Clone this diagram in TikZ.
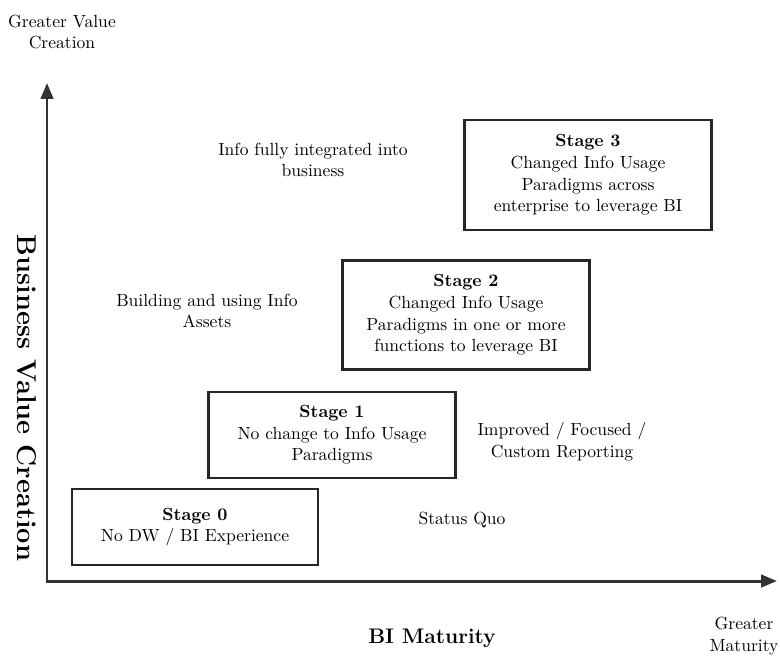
\documentclass[tikz,border=0pt]{standalone}
\usepackage{tikz}
\usetikzlibrary{arrows.meta,positioning}

\begin{document}
\begin{tikzpicture}[
	x=0.02cm, y=-0.02cm,
	font=\fontsize{10}{12.3}\selectfont,
	>={Triangle[length=9pt,width=7pt]},
	stage/.style={rectangle, draw=black!85, line width=1.6pt, align=center, inner sep=0pt, minimum width=4.95cm},
	lbl/.style={align=center, inner sep=0pt},
	axis/.style={<->, line width=1.7pt, black!80},
]
\useasboundingbox (0,0) rectangle (780,659);
% Achsen
\coordinate (ytip) at (47,83);
\coordinate (xtip) at (777,581);
\draw[axis] (ytip) |- (xtip);
\node[lbl] (gvc) at (62,32) {Greater Value\\Creation};
\node[lbl, rotate=-90, font=\fontsize{15.5}{18}\selectfont\bfseries] (bvc) at (27,398) {Business Value Creation};
\node[lbl, font=\fontsize{12}{14}\selectfont\bfseries] (bimat) at (432,638) {BI Maturity};
\node[lbl] (gmat) at (744,636) {Greater\\Maturity};
% Stufen
\node[stage, minimum width=4.92cm, minimum height=1.52cm] (s0) at (195,527) {\textbf{Stage 0}\\No DW / BI Experience};
\node[stage, minimum height=1.72cm] (s1) at (332,435) {\textbf{Stage 1}\\No change to Info Usage\\Paradigms};
\node[stage, minimum height=2.18cm] (s2) at (466,315) {\textbf{Stage 2}\\Changed Info Usage\\Paradigms in one or more\\functions to leverage BI};
\node[stage, minimum height=2.2cm] (s3) at (588,175) {\textbf{Stage 3}\\Changed Info Usage\\Paradigms across\\enterprise to leverage BI};
% Beschreibungen
\node[lbl] (quo) at (462,520) {Status Quo};
\node[lbl] (impr) at (562,442) {Improved / Focused /\\Custom Reporting};
\node[lbl] (build) at (207,311) {Building and using Info\\Assets};
\node[lbl] (info) at (313,160) {Info fully integrated into\\business};
\end{tikzpicture}
\end{document}
